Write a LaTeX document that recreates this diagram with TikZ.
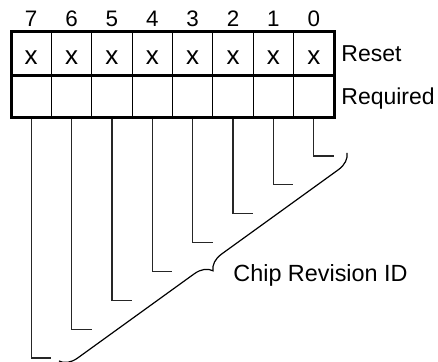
\documentclass[tikz,border=0pt]{standalone}
\usepackage{fontspec}
\setmainfont{Liberation Sans}
\usetikzlibrary{decorations.pathreplacing}
\begin{document}
\begin{tikzpicture}[x=0.5pt,y=-0.5pt,
  thickline/.style={line width=1.5pt},
  thinline/.style={line width=0.5pt},
  leader/.style={line width=0.6pt, black!85},
  bitnum/.style={font=\fontsize{11.2}{13}\selectfont, anchor=base, inner sep=0pt},
  cellx/.style={font=\fontsize{13}{15}\selectfont, anchor=base, inner sep=0pt},
  rowlabel/.style={font=\fontsize{11.5}{14}\selectfont, anchor=base west, inner sep=0pt},
  bracestyle/.style={line width=0.6pt, decorate, decoration={brace, amplitude=8.5pt}},
]
\useasboundingbox (0,0) rectangle (438,362);
% dividers
\foreach \k in {1,...,7} {
  \pgfmathsetmacro\dx{11+\k*40.375}
  \draw[thinline] (\dx,31.5) -- (\dx,118);
}
% bits, cells, leaders
\foreach \i in {0,...,7} {
  \pgfmathsetmacro\cx{31.2+(7-\i)*40.375}
  \pgfmathsetmacro\ly{156+\i*28.86}
  \node[bitnum] (n\i) at (\cx,27) {\i};
  \node[cellx] (x\i) at (\cx,65) {x};
  \coordinate (b\i) at (\cx,118);
  \coordinate (k\i) at (\cx,\ly);
  \coordinate (e\i) at ([xshift=10pt]k\i);
  \draw[leader] (b\i) -- (k\i) -- (e\i);
}
% outer frame
\draw[thickline] (11,31.5) rectangle (334,118);
\draw[thickline] (11,75.5) -- (334,75.5);
% labels
\node[rowlabel] (reset) at (341,62) {Reset};
\node[rowlabel] (req) at (341,104.5) {Required};
\coordinate (bt) at (347,153);
\coordinate (bb) at (59,361);
\draw[bracestyle] (bt) -- (bb);
\node[rowlabel, font=\fontsize{11.7}{14}\selectfont] (chip) at (233,282) {Chip Revision ID};
\end{tikzpicture}
\end{document}
